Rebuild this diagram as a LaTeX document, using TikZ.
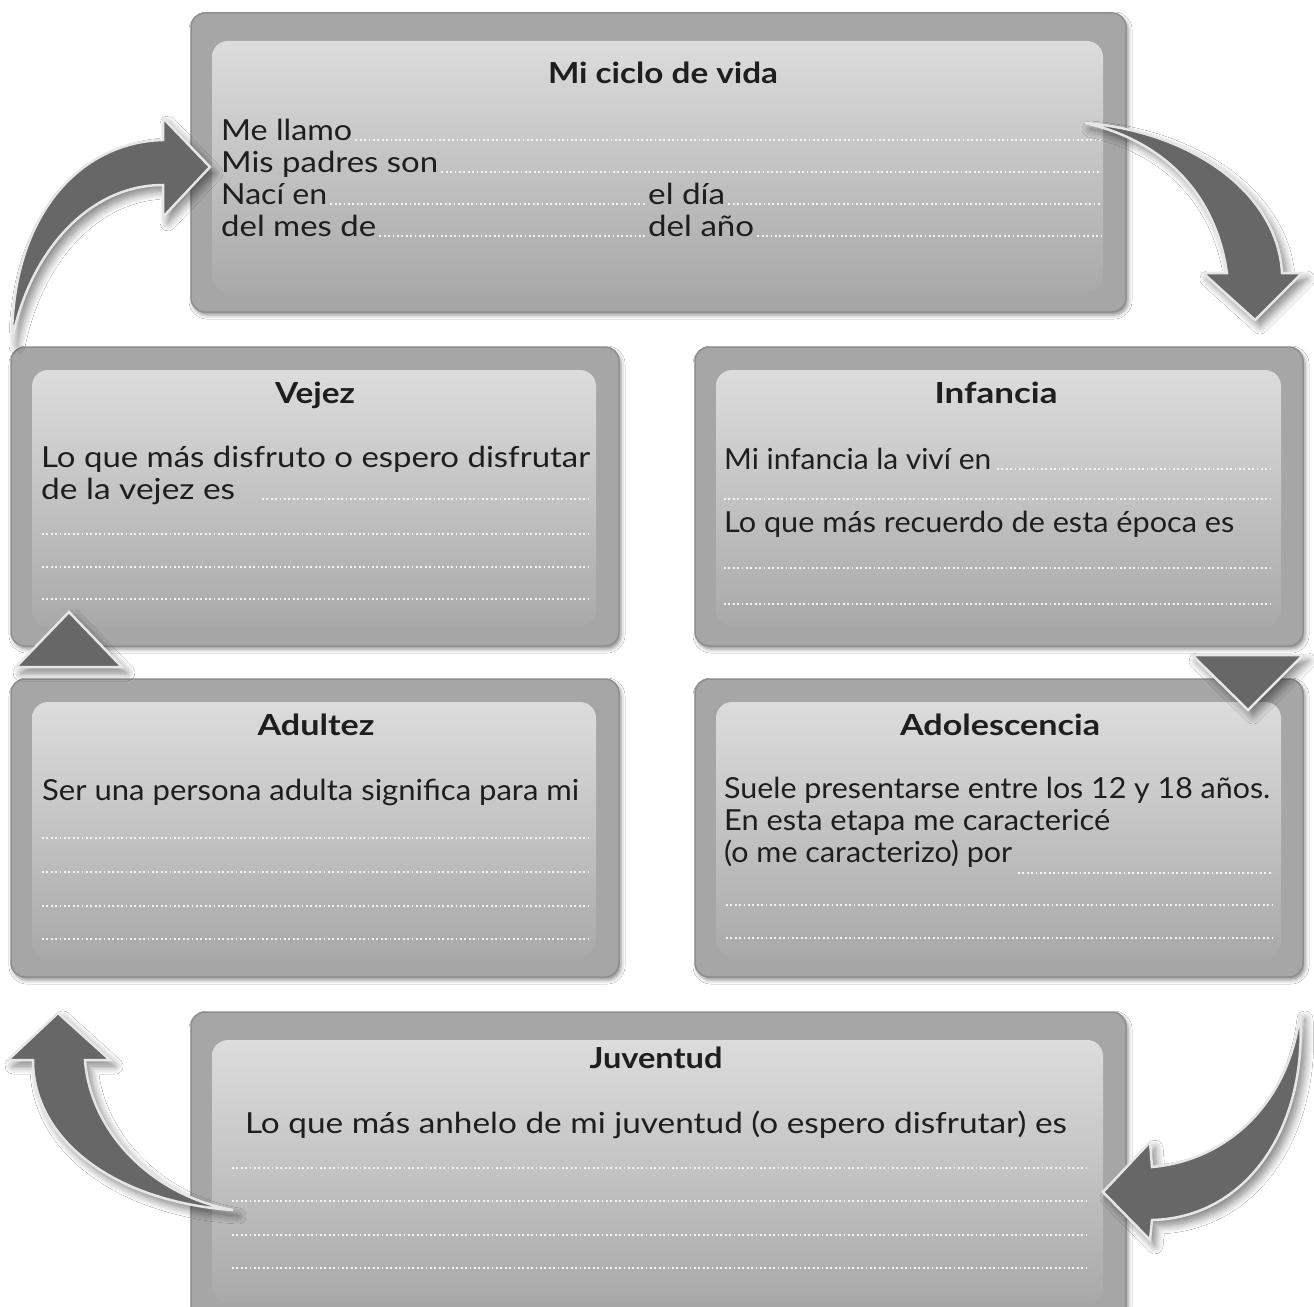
\documentclass[tikz,border=0pt]{standalone}
\usepackage{graphicx}
\usepackage{fontspec}
\setmainfont{Lato}
\usetikzlibrary{shadows.blur,calc}
\newcommand\fitw[2]{\resizebox{#1pt}{\height}{#2}}
\definecolor{frameGray}{HTML}{A6A6A6}
\definecolor{frameEdge}{HTML}{8E8E8E}
\definecolor{panelTop}{HTML}{DCDCDC}
\definecolor{panelBot}{HTML}{A9A9A9}
\definecolor{arrowFill}{HTML}{676767}
\definecolor{arrowEdge}{HTML}{E6E6E6}
\definecolor{txt}{HTML}{1E1E1E}
\definecolor{dotc}{HTML}{F4F4F4}
\begin{document}
\begin{tikzpicture}[x=1pt,y=-1pt,
  frame/.style={draw=frameEdge, line width=1.5pt, fill=frameGray, rounded corners=14pt,
    inner sep=0pt, outer sep=0pt, anchor=north west,
    blur shadow={shadow xshift=2pt, shadow yshift=-3pt, shadow blur radius=4pt, shadow opacity=45}},
  panel/.style={rounded corners=16pt, inner sep=0pt, outer sep=0pt, anchor=north west,
    top color=panelTop, bottom color=panelBot},
  ttl/.style={font=\fontsize{29}{32}\selectfont\bfseries, text=txt, anchor=base, inner sep=0pt},
  body/.style={font=\fontsize{29}{32}\selectfont, text=txt, anchor=base west, inner sep=0pt},
  dots/.style={draw=dotc, line width=1.8pt, dash pattern=on 1.8pt off 2.6pt},
  bigarrow/.style={fill=arrowFill, draw=arrowEdge, line width=2.5pt, line join=miter,
    blur shadow={shadow xshift=5pt, shadow yshift=-6pt, shadow blur radius=8pt,
      shadow opacity=50, shadow blur steps=10}}
]
\fill[white] (0,0) rectangle (1314,1306);
\useasboundingbox (0,0) rectangle (1314,1306);

% ---------- frames ----------
\node[frame, minimum width=935pt, minimum height=299pt] (topF) at (191,13) {};
\node[panel, minimum width=891pt, minimum height=251pt] (topP) at (212,41) {};
\node[frame, minimum width=608pt, minimum height=299pt] (vejF) at (11,347) {};
\node[panel, minimum width=564pt, minimum height=256pt] (vejP) at (32,370) {};
\node[frame, minimum width=608pt, minimum height=299pt] (infF) at (695,347) {};
\node[panel, minimum width=565pt, minimum height=256pt] (infP) at (716,370) {};
\node[frame, minimum width=608pt, minimum height=298pt] (aduF) at (11,679) {};
\node[panel, minimum width=564pt, minimum height=255pt] (aduP) at (32,702) {};
\node[frame, minimum width=608pt, minimum height=298pt] (adoF) at (695,679) {};
\node[panel, minimum width=565pt, minimum height=255pt] (adoP) at (716,702) {};
\node[frame, minimum width=935pt, minimum height=310pt] (juvF) at (191,1012) {};
\node[panel, minimum width=891pt, minimum height=262pt] (juvP) at (212,1040) {};

% ---------- Mi ciclo de vida ----------
\coordinate (topR) at (1101,0);
\node[ttl] (tT) at (663,83) {\fitw{230}{Mi ciclo de vida}};
\node[body] (t1) at (221,140) {\fitw{131}{Me llamo}};
\node[body] (t2) at (221,172) {\fitw{217}{Mis padres son}};
\node[body] (t3) at (221,204) {\fitw{106}{Nací en}};
\node[body] (t4) at (648,204) {\fitw{77}{el día}};
\node[body] (t5) at (221,236) {\fitw{155}{del mes de}};
\node[body] (t6) at (648,236) {\fitw{106}{del año}};
\draw[dots] ([xshift=3pt]t1.base east) -- (t1.base east -| topR);
\draw[dots] ([xshift=3pt]t2.base east) -- (t2.base east -| topR);
\draw[dots] ([xshift=3pt]t3.base east) -- ([xshift=-2pt]t4.base west);
\draw[dots] ([xshift=3pt]t4.base east) -- (t4.base east -| topR);
\draw[dots] ([xshift=3pt]t5.base east) -- ([xshift=-2pt]t6.base west);
\draw[dots] ([xshift=3pt]t6.base east) -- (t6.base east -| topR);

% ---------- Vejez ----------
\node[ttl] (vT) at (315,403) {\fitw{80}{Vejez}};
\node[body] (v1) at (41,467) {\fitw{549}{Lo que más disfruto o espero disfrutar}};
\node[body] (v2) at (41,499) {\fitw{194}{de la vejez es}};
\draw[dots] (262,499) -- (592,499);
\draw[dots] (42,534) -- (592,534);
\draw[dots] (42,567) -- (592,567);
\draw[dots] (42,599) -- (592,599);

% ---------- Infancia ----------
\node[ttl] (iT) at (996,403) {\fitw{123}{Infancia}};
\node[body] (i1) at (724,469) {\fitw{267}{Mi infancia la viví en}};
\draw[dots] (997,469) -- (1271,469);
\draw[dots] (724,499) -- (1271,499);
\node[body] (i2) at (724,532) {\fitw{510}{Lo que más recuerdo de esta época es}};
\draw[dots] (724,568) -- (1271,568);
\draw[dots] (724,604) -- (1271,604);

% ---------- Adultez ----------
\node[ttl] (aT) at (316,735) {\fitw{117}{Adultez}};
\node[body] (a1) at (42,800) {\fitw{537}{Ser una persona adulta significa para mi}};
\draw[dots] (42,838) -- (592,838);
\draw[dots] (42,872) -- (592,872);
\draw[dots] (42,906) -- (592,906);
\draw[dots] (42,939) -- (592,939);

% ---------- Adolescencia ----------
\node[ttl] (dT) at (1000,735) {\fitw{200}{Adolescencia}};
\node[body] (d1) at (724,798) {\fitw{546}{Suele presentarse entre los 12 y 18 años.}};
\node[body] (d2) at (724,830) {\fitw{386}{En esta etapa me caractericé}};
\node[body] (d3) at (724,862) {\fitw{288}{(o me caracterizo) por}};
\draw[dots] (1018,873) -- (1272,873);
\draw[dots] (726,905) -- (1272,905);
\draw[dots] (726,938) -- (1272,938);

% ---------- Juventud ----------
\node[ttl] (jT) at (656,1068) {\fitw{133}{Juventud}};
\node[body, anchor=base] (j1) at (656,1133) {\fitw{822}{Lo que más anhelo de mi juventud (o espero disfrutar) es}};
\draw[dots] (232,1168) -- (1088,1168);
\draw[dots] (232,1201) -- (1088,1201);
\draw[dots] (232,1235) -- (1088,1235);
\draw[dots] (232,1268) -- (1088,1268);

% ---------- arrows ----------
% top right (down)
\path[bigarrow] (1085,123) .. controls (1195,132) and (1278,195) .. (1282,273)
  -- (1302,273) -- (1255,320) -- (1203,273) -- (1227,273)
  .. controls (1215,190) and (1160,140) .. cycle;
% top left (right)
\path[bigarrow] (12,340) .. controls (12,215) and (80,142) .. (163,140)
  -- (163,118) -- (210,167) -- (163,217) -- (163,185)
  .. controls (90,185) and (30,250) .. cycle;
% bottom right (left)
\path[bigarrow] (1300,1013) .. controls (1308,1130) and (1245,1218) .. (1152,1220)
  -- (1150,1240) -- (1103,1192) -- (1150,1142) -- (1152,1167)
  .. controls (1230,1160) and (1290,1100) .. cycle;
% bottom left (up)
\path[bigarrow] (233,1210) .. controls (115,1202) and (33,1140) .. (33,1060)
  -- (8,1060) -- (58,1013) -- (110,1060) -- (85,1060)
  .. controls (90,1130) and (150,1195) .. cycle;
% triangles
\path[bigarrow] (1192,655) -- (1303,655) -- (1248,710) -- cycle;
\path[bigarrow] (69,612) -- (122,667) -- (16,667) -- cycle;
\end{tikzpicture}
\end{document}
